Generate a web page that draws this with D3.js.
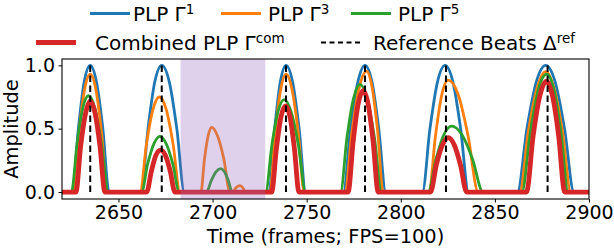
<!DOCTYPE html>
<html>
<head>
<meta charset="utf-8">
<script src="https://cdn.jsdelivr.net/npm/d3@7.9.0/dist/d3.min.js"></script>
<style>
  body { margin: 0; background: #fff; }
  svg { font-family: "DejaVu Sans", sans-serif; }
</style>
</head>
<body>
<svg id="chart" width="614" height="248"></svg>
<script>
// PLP curves as [frame, amplitude]
const plp1 = [
  [2620,0],[2625.5,0],[2628.7,0.5],[2631.8,0.87],[2635,1],[2638.3,0.87],[2641.7,0.5],[2645,0],
  [2662,0],[2665.7,0.5],[2669.3,0.87],[2673,1],[2677,0.87],[2681,0.5],[2685,0],
  [2730,0],[2733,0.5],[2736,0.87],[2739,1],[2742.5,0.87],[2746,0.5],[2749.5,0],
  [2769.5,0],[2773.3,0.5],[2777.2,0.87],[2781,1],[2784.7,0.87],[2788.3,0.5],[2792,0],
  [2811.5,0],[2815.5,0.5],[2819.5,0.87],[2823.5,1],[2827.7,0.87],[2831.8,0.5],[2836,0],
  [2862,0],[2867,0.5],[2872,0.87],[2877,1],[2882,0.87],[2887,0.5],[2892,0],[2900,0]
];
const plp3 = [
  [2620,0],[2626,0],[2629,0.47],[2632,0.81],[2635,0.93],[2638,0.81],[2641,0.47],[2644,0],
  [2661.5,0],[2664.9,0.38],[2668.3,0.65],[2671.7,0.75],[2675.4,0.65],[2679,0.38],[2682.7,0],
  [2693.8,0],[2695.7,0.26],[2697.6,0.44],[2699.5,0.51],[2702.7,0.44],[2706,0.26],[2709.2,0],
  [2710.5,0],[2712.5,0.035],[2714.5,0.05],[2716,0.035],[2717.5,0],
  [2730.5,0],[2733.3,0.47],[2736.2,0.81],[2739,0.93],[2742.2,0.81],[2745.5,0.47],[2748.7,0],
  [2770.3,0],[2774.1,0.48],[2778,0.83],[2781.8,0.955],[2784.7,0.83],[2787.7,0.48],[2790.6,0],
  [2815,0],[2818.4,0.44],[2821.8,0.77],[2825.2,0.884],[2830.5,0.77],[2835.8,0.44],[2841.1,0],
  [2863.2,0],[2867.8,0.48],[2872.4,0.82],[2877,0.95],[2881.4,0.82],[2885.9,0.48],[2890.3,0],[2900,0]
];
const plp5 = [
  [2620,0],[2625,0],[2628,0.38],[2631,0.66],[2634,0.76],[2637.5,0.66],[2641,0.38],[2644.6,0],
  [2662.3,0],[2665.5,0.22],[2668.8,0.38],[2672,0.44],[2675.4,0.38],[2678.9,0.22],[2682.3,0],
  [2696.8,0],[2699.3,0.09],[2701.8,0.16],[2704.3,0.184],[2706.3,0.16],[2708.4,0.09],[2710.4,0],
  [2728.2,0],[2731.5,0.37],[2734.7,0.63],[2738,0.73],[2741.8,0.63],[2745.6,0.37],[2749.4,0],
  [2768,0],[2771.4,0.43],[2774.9,0.74],[2778.3,0.85],[2782.1,0.74],[2786,0.43],[2789.8,0],
  [2814.5,0],[2818.7,0.26],[2822.8,0.45],[2827,0.52],[2832.6,0.45],[2838.1,0.26],[2843.7,0],
  [2864.4,0],[2868.8,0.47],[2873.1,0.81],[2877.5,0.93],[2881.3,0.81],[2885.1,0.47],[2888.9,0],[2900,0]
];
const plpCom = [
  [2620,0],[2627.4,0],[2629.9,0.36],[2632.5,0.62],[2635,0.72],[2637.6,0.62],[2640.2,0.36],[2642.8,0],
  [2665,0],[2667.5,0.165],[2669.9,0.29],[2672.4,0.33],[2674.9,0.29],[2677.5,0.165],[2680,0],
  [2731.4,0],[2733.9,0.34],[2736.3,0.59],[2738.8,0.68],[2741.2,0.59],[2743.5,0.34],[2745.9,0],
  [2772,0],[2774.7,0.4],[2777.3,0.69],[2780,0.8],[2782.7,0.69],[2785.3,0.4],[2788,0],
  [2815.8,0],[2818.9,0.215],[2822.1,0.37],[2825.2,0.43],[2828.5,0.37],[2831.7,0.215],[2835,0],
  [2866.8,0],[2870.3,0.44],[2873.9,0.76],[2877.4,0.875],[2880.6,0.76],[2883.9,0.44],[2887.1,0],[2900,0]
];
const refBeats = [2635, 2673, 2739, 2781, 2824, 2878];
const span = [2683, 2728];
const xTicks = [2650, 2700, 2750, 2800, 2850, 2900];
const yTicks = [0, 0.5, 1.0];

const svg = d3.select('#chart');
const margin = { left: 62, right: 25, top: 59, bottom: 49 };
const W = 614, H = 248;

const x = d3.scaleLinear().domain([2620, 2900]).range([margin.left, W - margin.right]);
const y = d3.scaleLinear().domain([-0.055, 1.05]).range([H - margin.bottom, margin.top]);

const plot = svg.append('g');
svg.append('defs').append('clipPath').attr('id', 'clip')
  .append('rect')
  .attr('x', margin.left).attr('y', margin.top)
  .attr('width', W - margin.left - margin.right)
  .attr('height', H - margin.top - margin.bottom);
plot.attr('clip-path', 'url(#clip)');

const line = d3.line().x(d => x(d[0])).y(d => y(d[1])).curve(d3.curveMonotoneX);

const series = [
  { data: plp1, color: '#1f77b4', width: 2.8 },
  { data: plp3, color: '#ff7f0e', width: 2.8 },
  { data: plp5, color: '#2ca02c', width: 2.8 },
  { data: plpCom, color: '#d62728', width: 4.8 }
];
series.forEach(s => {
  plot.append('path')
    .attr('d', line(s.data))
    .attr('fill', 'none')
    .attr('stroke', s.color)
    .attr('stroke-width', s.width)
    .attr('stroke-linejoin', 'round');
});

// reference beats
plot.selectAll('line.beat').data(refBeats).join('line')
  .attr('class', 'beat')
  .attr('x1', d => x(d)).attr('x2', d => x(d))
  .attr('y1', y(0)).attr('y2', y(1))
  .attr('stroke', '#000')
  .attr('stroke-width', 2)
  .attr('stroke-dasharray', '6.5,3.5');

// shaded region, translucent on top of the curves
plot.append('rect')
  .attr('x', x(span[0])).attr('width', x(span[1]) - x(span[0]))
  .attr('y', margin.top).attr('height', H - margin.top - margin.bottom)
  .attr('fill', '#9467bd').attr('fill-opacity', 0.3);

// axes
const xAxis = svg.append('g')
  .attr('transform', `translate(0,${H - margin.bottom})`)
  .call(d3.axisBottom(x).tickValues(xTicks).tickSize(3.5).tickPadding(3.5).tickFormat(d3.format('d')));
const yAxis = svg.append('g')
  .attr('transform', `translate(${margin.left},0)`)
  .call(d3.axisLeft(y).tickValues(yTicks).tickSize(3.5).tickPadding(3.5).tickFormat(d3.format('.1f')));
[xAxis, yAxis].forEach(a => {
  a.select('.domain').remove();
  a.selectAll('.tick line').attr('stroke', '#000').attr('stroke-width', 1);
  a.selectAll('.tick text').attr('fill', '#000').style('font-size', '19px').style('font-family', '"DejaVu Sans", sans-serif');
});

svg.append('rect')
  .attr('x', margin.left).attr('y', margin.top)
  .attr('width', W - margin.left - margin.right)
  .attr('height', H - margin.top - margin.bottom)
  .attr('fill', 'none').attr('stroke', '#000').attr('stroke-width', 1.1);

svg.append('text')
  .attr('x', (margin.left + W - margin.right) / 2).attr('y', 243)
  .attr('text-anchor', 'middle').style('font-size', '19.4px')
  .text('Time (frames; FPS=100)');

svg.append('text')
  .attr('transform', `translate(18,${(margin.top + H - margin.bottom) / 2}) rotate(-90)`)
  .attr('text-anchor', 'middle').style('font-size', '19.4px')
  .text('Amplitude');

// legend
const legendItems = [
  { x: 90, y: 13.5, color: '#1f77b4', width: 2.8, tx: 133, label: 'PLP Γ', sup: '1' },
  { x: 221, y: 13.5, color: '#ff7f0e', width: 2.8, tx: 268, label: 'PLP Γ', sup: '3' },
  { x: 351, y: 13.5, color: '#2ca02c', width: 2.8, tx: 398, label: 'PLP Γ', sup: '5' },
  { x: 36, y: 42.5, color: '#d62728', width: 4.8, tx: 95, label: 'Combined PLP Γ', sup: 'com' },
  { x: 321, y: 42.5, color: '#000', width: 2, dash: '5,3.5', tx: 373, label: 'Reference Beats Δ', sup: 'ref' }
];
legendItems.forEach(it => {
  const g = svg.append('g');
  g.append('line')
    .attr('x1', it.x).attr('x2', it.x + 40)
    .attr('y1', it.y).attr('y2', it.y)
    .attr('stroke', it.color).attr('stroke-width', it.width)
    .attr('stroke-dasharray', it.dash || null);
  const t = g.append('text')
    .attr('x', it.tx).attr('y', it.y + 7)
    .style('font-size', '20px');
  t.append('tspan').text(it.label);
  t.append('tspan').attr('dy', -7).style('font-size', '13.5px').text(it.sup);
});
</script>
</body>
</html>
